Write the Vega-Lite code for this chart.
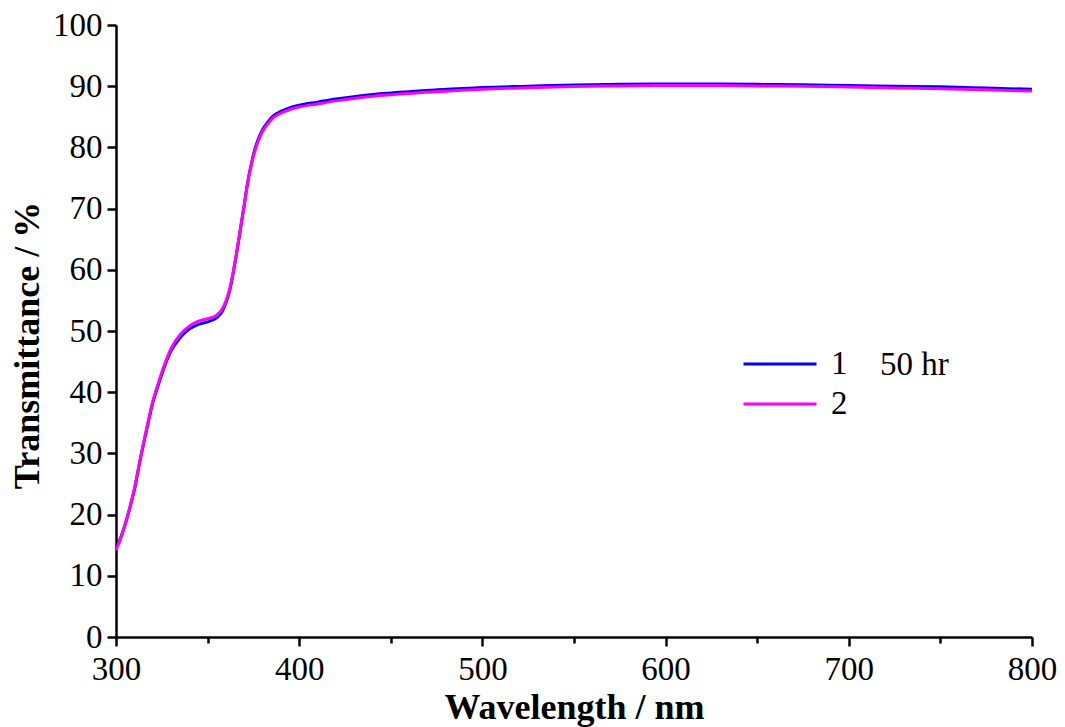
{
  "$schema": "https://vega.github.io/schema/vega-lite/v6.json",
  "width": 916,
  "height": 612,
  "autosize": {"type": "none"},
  "padding": {"left": 116, "top": 25, "right": 33, "bottom": 90},
  "background": "white",
  "config": {
    "view": {"stroke": null},
    "font": "Liberation Serif",
    "axis": {
      "domainColor": "black",
      "domainWidth": 2.5,
      "tickColor": "black",
      "tickWidth": 2.5,
      "grid": false,
      "labelFont": "Liberation Serif",
      "labelFontSize": 33,
      "labelColor": "black",
      "titleFont": "Liberation Serif",
      "titleFontSize": 36,
      "titleFontWeight": "bold",
      "titleColor": "black"
    }
  },
  "layer": [
    {
      "data": {
        "values": [
          {"wl": 300, "T": 14.4, "s": "1"}, {"wl": 303, "T": 16.6, "s": "1"}, {"wl": 305, "T": 18.4, "s": "1"}, {"wl": 308, "T": 21.6, "s": "1"}, {"wl": 310, "T": 24.0, "s": "1"}, {"wl": 313, "T": 28.6, "s": "1"}, {"wl": 315, "T": 31.5, "s": "1"}, {"wl": 318, "T": 35.6, "s": "1"}, {"wl": 320, "T": 38.2, "s": "1"}, {"wl": 323, "T": 41.1, "s": "1"}, {"wl": 326, "T": 43.8, "s": "1"}, {"wl": 330, "T": 46.7, "s": "1"}, {"wl": 335, "T": 48.9, "s": "1"}, {"wl": 340, "T": 50.3, "s": "1"}, {"wl": 345, "T": 51.1, "s": "1"}, {"wl": 350, "T": 51.5, "s": "1"}, {"wl": 355, "T": 52.2, "s": "1"}, {"wl": 358, "T": 53.2, "s": "1"}, {"wl": 360, "T": 54.6, "s": "1"}, {"wl": 362, "T": 56.5, "s": "1"}, {"wl": 364, "T": 59.5, "s": "1"}, {"wl": 366, "T": 63.0, "s": "1"}, {"wl": 368, "T": 66.8, "s": "1"}, {"wl": 370, "T": 70.6, "s": "1"}, {"wl": 372, "T": 74.5, "s": "1"}, {"wl": 374, "T": 77.5, "s": "1"}, {"wl": 376, "T": 79.9, "s": "1"}, {"wl": 378, "T": 81.6, "s": "1"}, {"wl": 380, "T": 82.9, "s": "1"}, {"wl": 383, "T": 84.2, "s": "1"}, {"wl": 386, "T": 85.2, "s": "1"}, {"wl": 390, "T": 85.9, "s": "1"}, {"wl": 395, "T": 86.5, "s": "1"}, {"wl": 400, "T": 86.9, "s": "1"}, {"wl": 410, "T": 87.4, "s": "1"}, {"wl": 420, "T": 87.9, "s": "1"}, {"wl": 435, "T": 88.5, "s": "1"}, {"wl": 450, "T": 88.9, "s": "1"}, {"wl": 475, "T": 89.4, "s": "1"}, {"wl": 500, "T": 89.8, "s": "1"}, {"wl": 525, "T": 90.0, "s": "1"}, {"wl": 550, "T": 90.2, "s": "1"}, {"wl": 575, "T": 90.3, "s": "1"}, {"wl": 600, "T": 90.35, "s": "1"}, {"wl": 625, "T": 90.35, "s": "1"}, {"wl": 650, "T": 90.3, "s": "1"}, {"wl": 675, "T": 90.25, "s": "1"}, {"wl": 700, "T": 90.1, "s": "1"}, {"wl": 725, "T": 90.0, "s": "1"}, {"wl": 750, "T": 89.9, "s": "1"}, {"wl": 775, "T": 89.7, "s": "1"}, {"wl": 800, "T": 89.5, "s": "1"},
          {"wl": 300, "T": 14.2, "s": "2"}, {"wl": 303, "T": 16.5, "s": "2"}, {"wl": 305, "T": 18.4, "s": "2"}, {"wl": 308, "T": 21.7, "s": "2"}, {"wl": 310, "T": 24.2, "s": "2"}, {"wl": 313, "T": 28.8, "s": "2"}, {"wl": 315, "T": 31.7, "s": "2"}, {"wl": 318, "T": 35.8, "s": "2"}, {"wl": 320, "T": 38.4, "s": "2"}, {"wl": 323, "T": 41.4, "s": "2"}, {"wl": 326, "T": 44.1, "s": "2"}, {"wl": 330, "T": 47.1, "s": "2"}, {"wl": 335, "T": 49.4, "s": "2"}, {"wl": 340, "T": 50.8, "s": "2"}, {"wl": 345, "T": 51.6, "s": "2"}, {"wl": 350, "T": 52.0, "s": "2"}, {"wl": 355, "T": 52.6, "s": "2"}, {"wl": 358, "T": 53.6, "s": "2"}, {"wl": 360, "T": 54.9, "s": "2"}, {"wl": 362, "T": 56.8, "s": "2"}, {"wl": 364, "T": 59.7, "s": "2"}, {"wl": 366, "T": 63.1, "s": "2"}, {"wl": 368, "T": 66.9, "s": "2"}, {"wl": 370, "T": 70.6, "s": "2"}, {"wl": 372, "T": 74.4, "s": "2"}, {"wl": 374, "T": 77.3, "s": "2"}, {"wl": 376, "T": 79.6, "s": "2"}, {"wl": 378, "T": 81.3, "s": "2"}, {"wl": 380, "T": 82.6, "s": "2"}, {"wl": 383, "T": 83.9, "s": "2"}, {"wl": 386, "T": 84.9, "s": "2"}, {"wl": 390, "T": 85.6, "s": "2"}, {"wl": 395, "T": 86.2, "s": "2"}, {"wl": 400, "T": 86.6, "s": "2"}, {"wl": 410, "T": 87.1, "s": "2"}, {"wl": 420, "T": 87.6, "s": "2"}, {"wl": 435, "T": 88.2, "s": "2"}, {"wl": 450, "T": 88.6, "s": "2"}, {"wl": 475, "T": 89.1, "s": "2"}, {"wl": 500, "T": 89.5, "s": "2"}, {"wl": 525, "T": 89.75, "s": "2"}, {"wl": 550, "T": 89.95, "s": "2"}, {"wl": 575, "T": 90.05, "s": "2"}, {"wl": 600, "T": 90.1, "s": "2"}, {"wl": 625, "T": 90.1, "s": "2"}, {"wl": 650, "T": 90.05, "s": "2"}, {"wl": 675, "T": 90.0, "s": "2"}, {"wl": 700, "T": 89.85, "s": "2"}, {"wl": 725, "T": 89.7, "s": "2"}, {"wl": 750, "T": 89.6, "s": "2"}, {"wl": 775, "T": 89.4, "s": "2"}, {"wl": 800, "T": 89.2, "s": "2"}
        ]
      },
      "mark": {"type": "line", "strokeWidth": 3, "interpolate": "monotone"},
      "encoding": {
        "x": {
          "field": "wl", "type": "quantitative",
          "scale": {"domain": [300, 800], "nice": false},
          "axis": {
            "title": "Wavelength / nm",
            "values": [300, 350, 400, 450, 500, 550, 600, 650, 700, 750, 800],
            "labelExpr": "datum.value % 100 === 0 ? datum.label : ''",
            "tickSize": {"condition": {"test": "datum.value % 100 === 0", "value": 9}, "value": 6},
            "labelPadding": 7,
            "titlePadding": 4,
            "labelFlush": false
          }
        },
        "y": {
          "field": "T", "type": "quantitative",
          "scale": {"domain": [0, 100], "nice": false},
          "axis": {
            "title": "Transmittance / %",
            "values": [0, 5, 10, 15, 20, 25, 30, 35, 40, 45, 50, 55, 60, 65, 70, 75, 80, 85, 90, 95, 100],
            "labelExpr": "datum.value % 10 === 0 ? datum.label : ''",
            "tickSize": {"condition": {"test": "datum.value % 10 === 0", "value": 9}, "value": 6},
            "labelPadding": 5,
            "titlePadding": 6,
            "titleY": 320
          }
        },
        "color": {
          "field": "s", "type": "nominal",
          "scale": {"domain": ["1", "2"], "range": ["#0000FF", "#FF00FF"]},
          "legend": {
            "orient": "none",
            "legendX": 626,
            "legendY": 319,
            "title": null,
            "padding": 0,
            "symbolType": "stroke",
            "symbolSize": 5329,
            "symbolStrokeWidth": 3,
            "labelFont": "Liberation Serif",
            "labelFontSize": 33,
            "labelColor": "black",
            "labelOffset": 13,
            "clipHeight": 40,
            "rowPadding": 0
          }
        }
      }
    },
    {
      "data": {"values": [{"wl": 717, "T": 44.4, "note": "50 hr"}]},
      "mark": {"type": "text", "align": "left", "baseline": "middle", "font": "Liberation Serif", "fontSize": 33, "color": "black"},
      "encoding": {
        "x": {"field": "wl", "type": "quantitative"},
        "y": {"field": "T", "type": "quantitative"},
        "text": {"field": "note"}
      }
    }
  ]
}
